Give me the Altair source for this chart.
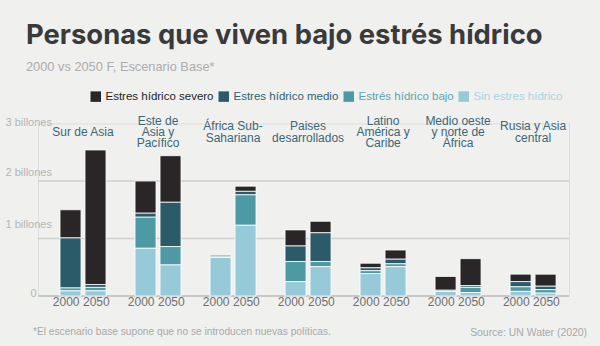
import altair as alt
import pandas as pd

regions = ["Sur de Asia", "Este de Asia y Pacífico", "África Sub-Sahariana",
           "Paises desarrollados", "Latino América y Caribe",
           "Medio oeste y norte de África", "Rusia y Asia central"]
region_labels = ["Sur de Asia", "Este de\nAsia y\nPacífico", "África Sub-\nSahariana",
                 "Paises\ndesarrollados", "Latino\nAmérica y\nCaribe",
                 "Medio oeste\ny norte de\nÁfrica", "Rusia y Asia\ncentral"]
years = ["2000", "2050"]
categories = ["Estres hídrico severo", "Estres hídrico medio",
              "Estrés hídrico bajo", "Sin estres hídrico"]
colors = ["#2a2526", "#2b5a68", "#4e9aa4", "#96cad9"]
label_colors = ["#1e1e1e", "#2f6272", "#5aa5ad", "#a9d4e0"]

# billions, [2000, 2050] per region
severo = [[0.49, 2.34], [0.56, 0.81], [0.02, 0.09], [0.28, 0.20], [0.08, 0.16], [0.24, 0.47], [0.13, 0.21]]
medio  = [[0.87, 0.05], [0.07, 0.77], [0.02, 0.06], [0.27, 0.50], [0.05, 0.08], [0.02, 0.03], [0.09, 0.06]]
bajo   = [[0.05, 0.06], [0.54, 0.32], [0.00, 0.53], [0.35, 0.09], [0.05, 0.05], [0.00, 0.09], [0.08, 0.06]]
sin    = [[0.09, 0.09], [0.83, 0.54], [0.67, 1.23], [0.25, 0.51], [0.39, 0.51], [0.08, 0.06], [0.08, 0.05]]

y_ticks = [0, 1, 2, 3]
grid_values = [1, 2]

title = "Personas que viven bajo estrés hídrico"
subtitle = "2000 vs 2050 F, Escenario Base*"
footnote = "*El escenario base supone que no se introducen nuevas políticas."
source = "Source: UN Water (2020)"

rows = []
for cat_i, series in enumerate([severo, medio, bajo, sin]):
    for r_i, reg in enumerate(regions):
        for y_i, yr in enumerate(years):
            rows.append({"region": reg, "year": yr, "cat": categories[cat_i],
                         "ord": 3 - cat_i, "value": series[r_i][y_i]})
df = pd.DataFrame(rows)

x_scale = alt.Scale(domain=regions, paddingInner=0.387, paddingOuter=0.233, align=0.63)
xo_scale = alt.Scale(domain=years, paddingInner=0.16, paddingOuter=0)
y_scale = alt.Scale(domain=[0, 3], nice=False, zero=True)

color_expr = " : ".join(
    f"datum.value == '{c}' ? '{lc}'" for c, lc in zip(categories[:-1], label_colors[:-1])
) + f" : '{label_colors[-1]}'"

bars = alt.Chart(df).mark_bar(stroke="#ffffff", strokeWidth=0.8).encode(
    x=alt.X("region:N", scale=x_scale, axis=None),
    xOffset=alt.XOffset("year:N", scale=xo_scale),
    y=alt.Y("value:Q", stack="zero", scale=y_scale,
            axis=alt.Axis(values=y_ticks, grid=False, domain=False, ticks=False, tickSize=0,
                          title=None,
                          labelExpr="datum.value == 0 ? '0' : datum.value + ' billones'",
                          labelColor="#b5b5b5", labelFontSize=11, labelFont="Liberation Sans",
                          labelAlign={"expr": "datum.value == 0 ? 'right' : 'left'"},
                          labelPadding={"expr": "datum.value == 0 ? 2 : 33"},
                          labelOffset={"expr": "datum.value == 3 ? -1 : datum.value == 2 ? -9 : datum.value == 1 ? -14 : -3"},
                          labelBaseline="middle")),
    color=alt.Color("cat:N", scale=alt.Scale(domain=categories, range=colors),
                    legend=alt.Legend(orient="none", direction="horizontal", title=None,
                                      legendX=52, legendY=-33, padding=0,
                                      symbolType="square", symbolSize=110,
                                      symbolStrokeWidth=0, symbolOpacity=1,
                                      labelFontSize=11.5, labelFont="Liberation Sans",
                                      labelOffset=4, columnPadding=4,
                                      labelColor={"expr": color_expr})),
    order=alt.Order("ord:Q", sort="ascending"),
)

grid = alt.Chart(pd.DataFrame({"v": grid_values})).mark_rule(
    color="#cfcfcf", strokeWidth=1.5).encode(y=alt.Y("v:Q", scale=y_scale))
base = alt.Chart(pd.DataFrame({"v": [0]})).mark_rule(
    color="#c8c8c8", strokeWidth=2).encode(y=alt.Y("v:Q", scale=y_scale))

LH = 11.2
reg_df = pd.DataFrame({"region": regions, "label": region_labels,
                       "n": [lab.count("\n") + 1 for lab in region_labels]})
reg_layers = []
for n in [1, 2, 3]:
    reg_layers.append(alt.Chart(reg_df).transform_filter(f"datum.n == {n}").mark_text(
        fontSize=12, font="Liberation Sans", color="#3a6878", align="center",
        baseline="middle", lineBreak="\n", lineHeight=LH).encode(
        x=alt.X("region:N", scale=x_scale), y=alt.value(8.5 - (n - 1) * LH / 2),
        text="label:N"))

yr_df = pd.DataFrame([{"region": r, "year": y} for r in regions for y in years])
yr_layers = []
for yr, al, dx in [("2000", "right", 9), ("2050", "left", -12.5)]:
    yr_layers.append(alt.Chart(yr_df).transform_filter(f"datum.year == '{yr}'").mark_text(
        fontSize=12, font="Liberation Sans", color="#6e6e6e", align=al, dx=dx,
        baseline="middle").encode(
        x=alt.X("region:N", scale=x_scale), xOffset=alt.XOffset("year:N", scale=xo_scale),
        y=alt.value(178.5), text="year:N"))

def note(txt, x, y, **kw):
    return alt.Chart(pd.DataFrame({"t": [txt]})).mark_text(**kw).encode(
        x=alt.value(x), y=alt.value(y), text="t:N")

title_t = note(title, -12, -79.5, fontSize=27.4, font="Inter", fontWeight=700,
               color="#3a3a3a", align="left", baseline="alphabetic")
sub_t = note(subtitle, -12, -53, fontSize=12.8, font="Liberation Sans",
             color="#acacac", align="left", baseline="alphabetic")
foot_t = note(footnote, -5, 211, fontSize=10.2, font="Liberation Sans",
              color="#a8a8a8", align="left", baseline="alphabetic")
src_t = note(source, 549, 212.5, fontSize=10.4, font="Liberation Sans",
             color="#a8a8a8", align="right", baseline="alphabetic")

chart = alt.layer(grid, base, bars, *reg_layers, *yr_layers, title_t, sub_t, foot_t, src_t).properties(
    width=531, height=172.5,
    autosize=alt.AutoSizeParams(type="none"),
    padding={"left": 38, "top": 123.5, "right": 31, "bottom": 50},
    background="#f0f0ef",
).configure_view(stroke=None).configure(font="Liberation Sans")

chart.save("out.html", embed_options={"renderer": "svg", "actions": False})
